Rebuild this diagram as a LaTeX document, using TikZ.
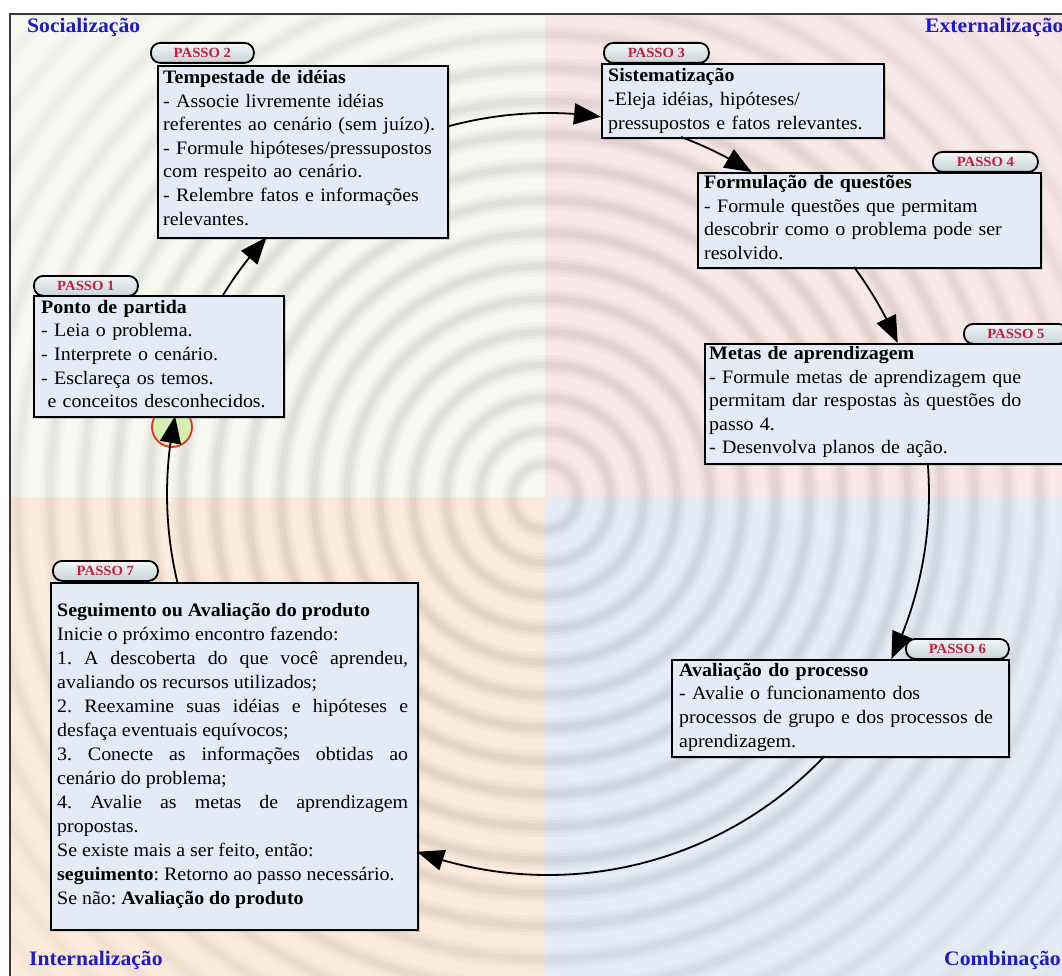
\documentclass[tikz,border=0pt]{standalone}
\usepackage{fontspec}
\setmainfont[FakeStretch=1.05]{Liberation Serif}
\usetikzlibrary{arrows.meta,bending,shadows,calc}
\frenchspacing

\definecolor{qTL}{HTML}{F7F8F2}
\definecolor{qTR}{HTML}{F9E8E8}
\definecolor{qBL}{HTML}{FCEADB}
\definecolor{qBR}{HTML}{E6ECF6}
\definecolor{boxfill}{HTML}{E5EBF6}
\definecolor{tagtop}{HTML}{F2F6F6}
\definecolor{tagbot}{HTML}{C6D4D8}
\definecolor{tagred}{HTML}{C41E3A}
\definecolor{quadblue}{HTML}{1C1CC4}
\definecolor{startgreen}{HTML}{D6EFB0}
\definecolor{startred}{HTML}{E4321E}
\definecolor{framegray}{HTML}{3A3A3A}

\newcommand\stepfont{\fontsize{19}{23.6}\selectfont}
\newcommand\longstepfont{\fontsize{19}{24}\selectfont}
\newcommand\tagfont{\fontsize{14}{16}\selectfont\bfseries}
\newcommand\quadfont{\fontsize{20.6}{24}\selectfont\bfseries}

\tikzset{
  stepbox/.style={draw=black, line width=2pt, fill=boxfill, anchor=north west,
    inner sep=0pt, drop shadow={shadow xshift=2pt, shadow yshift=-2pt, opacity=.3}},
  steptext/.style={anchor=north west, inner sep=0pt, align=left, text width=#1,
    font=\stepfont},
  tag/.style={draw=black, line width=1.8pt, rounded corners=9.5pt, top color=tagtop,
    bottom color=tagbot, anchor=north west, minimum height=20pt, minimum width=#1,
    inner sep=0pt, font=\tagfont, text=tagred},
  quad/.style={font=\quadfont, text=quadblue, inner sep=0pt},
  flow/.style={line width=1.8pt, black, -{Triangle[length=27pt,width=21pt,flex]}},
  ring/.style={black, line width=#1}
}

\begin{document}
\begin{tikzpicture}[x=1pt, y=-1pt]
\useasboundingbox (0,0) rectangle (1062,976);
\clip (0,0) rectangle (1062,976);

% four coloured quadrants
\fill[qTL] (10,14) rectangle (545,497);
\fill[qTR] (545,14) rectangle (1062,497);
\fill[qBL] (10,497) rectangle (545,976);
\fill[qBR] (545,497) rectangle (1062,976);

% soft concentric ripples
\coordinate (rip) at (545,497);
\begin{scope}
  \clip (10,14) rectangle (1062,976);
  \foreach \r in {33,66,...,759} {
    \pgfmathsetmacro\f{min(1,max(0.25,1-(\r-380)/420))}
    \draw[ring=20pt, opacity=0.025*\f] (rip) circle[radius=\r];
    \draw[ring=13pt, opacity=0.03*\f] (rip) circle[radius=\r];
    \draw[ring=7pt, opacity=0.035*\f] (rip) circle[radius=\r];
  }
\end{scope}

% frame
\draw[framegray, line width=2pt] (1062,14) -- (10,14) -- (10,976);

% quadrant labels
\node[quad, anchor=base west] (qsoc) at (27,33) {Socialização};
\node[quad, anchor=base west] (qext) at (925,33) {Externalização};
\node[quad, anchor=base west] (qint) at (29,965) {Internalização};
\node[quad, anchor=base west] (qcom) at (944,965) {Combinação};

% starting mark
\node[circle, draw=startred, fill=startgreen, line width=1.8pt, minimum size=40pt,
  inner sep=0pt] (start) at (172,427) {};

% step 1
\node[stepbox, minimum width=250pt, minimum height=121pt] (b1) at (33,295) {};
\node[steptext=245pt] (t1) at (41,313-16.52) {\strut\textbf{Ponto de partida}\\
- Leia o problema.\\
- Interprete o cenário.\\
- Esclareça os temos.\\
\ e conceitos desconhecidos.};
\node[tag=104pt] (p1) at (33,275) {PASSO 1};

% step 2
\node[stepbox, minimum width=290pt, minimum height=172pt] (b2) at (157,65) {};
\node[steptext=285pt] (t2) at (163,83.3-16.52) {\strut\textbf{Tempestade de idéias}\\
- Associe livremente idéias\\
referentes ao cenário (sem juízo).\\
- Formule hipóteses/pressupostos\\
com respeito ao cenário.\\
- Relembre fatos e informações\\
relevantes.};
\node[tag=103pt] (p2) at (150,42) {PASSO 2};

% step 3
\node[stepbox, minimum width=282pt, minimum height=74pt] (b3) at (601,63) {};
\node[steptext=275pt] (t3) at (608,81.7-16.52) {\strut\textbf{Sistematização}\\
-Eleja idéias, hipóteses/\\
pressupostos e fatos relevantes.};
\node[tag=105pt] (p3) at (603,42) {PASSO 3};

% step 4
\node[stepbox, minimum width=343pt, minimum height=95pt] (b4) at (697,172) {};
\node[steptext=335pt] (t4) at (704,188.3-16.52) {\strut\textbf{Formulação de questões}\\
- Formule questões que permitam\\
descobrir como o problema pode ser\\
resolvido.};
\node[tag=105pt] (p4) at (932,151) {PASSO 4};

% step 5
\node[stepbox, minimum width=362pt, minimum height=120pt] (b5) at (704,343) {};
\node[steptext=350pt] (t5) at (709,359.3-16.52) {\strut\textbf{Metas de aprendizagem}\\
- Formule metas de aprendizagem que\\
permitam dar respostas às questões do\\
passo 4.\\
- Desenvolva planos de ação.};
\node[tag=104pt] (p5) at (963,323) {PASSO 5};

% step 6
\node[stepbox, minimum width=337pt, minimum height=97pt] (b6) at (671,659) {};
\node[steptext=330pt] (t6) at (679,676-16.52) {\strut\textbf{Avaliação do processo}\\
- Avalie o funcionamento dos\\
processos de grupo e dos processos de\\
aprendizagem.};
\node[tag=103pt] (p6) at (905,638) {PASSO 6};

% step 7 (justified paragraphs)
\node[stepbox, minimum width=367pt, minimum height=347pt] (b7) at (50,582) {};
\node[anchor=north west, inner sep=0pt, text width=351pt, align=justify,
  font=\longstepfont] (t7) at (57,616-16.8)
  {\strut\textbf{Seguimento ou Avaliação do produto}\par
Inicie o próximo encontro fazendo:\par
1. A descoberta do que você aprendeu,\linebreak avaliando os recursos utilizados;\par
2. Reexamine suas idéias e hipóteses e\linebreak desfaça eventuais equívocos;\par
3. Conecte as informações obtidas ao\linebreak cenário do problema;\par
4. Avalie as metas de aprendizagem\linebreak propostas.\par
Se existe mais a ser feito, então:\par
\textbf{seguimento}: Retorno ao passo necessário.\par
Se não: \textbf{Avaliação do produto}};
\node[tag=105pt] (p7) at (52,560) {PASSO 7};

% cycle of connectors around the common centre
\coordinate (ctr) at (548,494);
\coordinate (o1) at ($(ctr)+(211.5:381)$);
\coordinate (o2) at ($(ctr)+(254.63:381)$);
\coordinate (o3) at ($(ctr)+(290.44:381)$);
\coordinate (o4) at ($(ctr)+(323.43:381)$);
\coordinate (o5) at ($(ctr)+(355.33:381)$);
\coordinate (o6) at ($(ctr)+(43.45:381)$);
\coordinate (o7) at ($(ctr)+(166.65:381)$);

\draw[flow] (o1) arc[start angle=211.5, end angle=222.4, radius=381];
\draw[flow] (o2) arc[start angle=254.63, end angle=278.0, radius=381];
\draw[flow] (o3) arc[start angle=290.44, end angle=302.33, radius=381];
\draw[flow] (o4) arc[start angle=323.43, end angle=336.65, radius=381];
\draw[flow] (o5) arc[start angle=355.33, end angle=385.66, radius=381];
\draw[flow] (o6) arc[start angle=43.45, end angle=110.11, radius=381];
\draw[flow] (o7) arc[start angle=166.65, end angle=191.81, radius=381];
\end{tikzpicture}
\end{document}
